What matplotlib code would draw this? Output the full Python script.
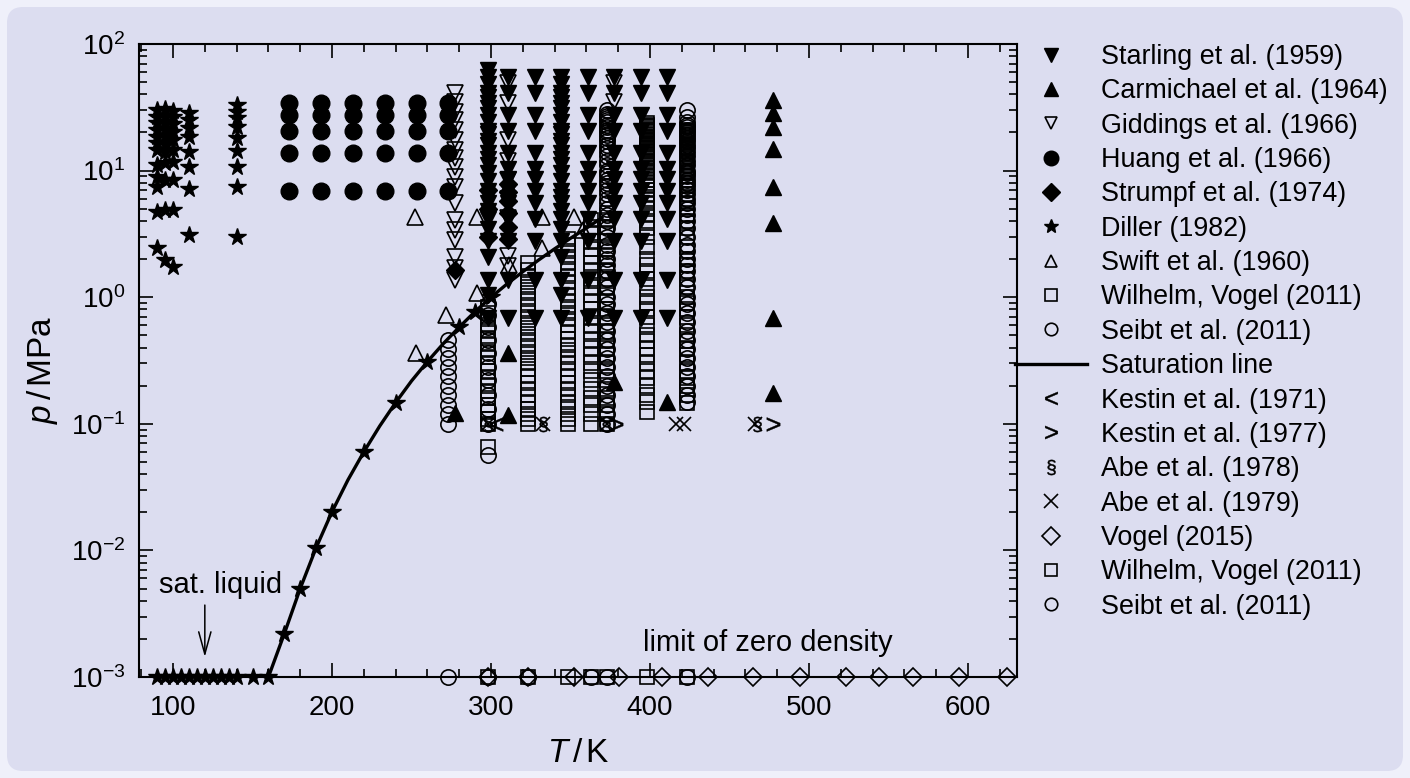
import numpy as np
import matplotlib.pyplot as plt
from matplotlib.lines import Line2D
from matplotlib.patches import FancyBboxPatch
from matplotlib.transforms import IdentityTransform
from matplotlib.ticker import MultipleLocator, LogLocator, NullFormatter

plt.rcParams['font.family'] = ['Liberation Sans', 'DejaVu Sans']
plt.rcParams['mathtext.fontset'] = 'custom'
plt.rcParams['mathtext.rm'] = 'Liberation Sans'
plt.rcParams['mathtext.it'] = 'Liberation Sans:italic'
plt.rcParams['mathtext.bf'] = 'Liberation Sans:bold'

# pressure used to show the limit of zero density / sat. liquid below 1 kPa
p_floor = 1e-3

# saturation line of propane, T / K and p / MPa
sat_T = [160, 170, 180, 190, 200, 210, 220, 230, 240, 250, 260, 270, 280,
         290, 300, 310, 320, 330, 340, 350, 360, 369.8]
sat_p = [0.001, 0.0022, 0.0050, 0.0105, 0.0202, 0.036, 0.060, 0.096, 0.147,
         0.218, 0.31, 0.43, 0.58, 0.77, 1.0, 1.27, 1.59, 1.97, 2.41, 2.92,
         3.51, 4.25]

# Starling et al. (1959)
starling_T = [310.93, 327.59, 360.93, 377.59, 394.26, 410.93]
starling_p = [0.689, 1.379, 2.758, 4.137, 5.516, 6.895, 8.618, 10.34, 13.79,
              20.68, 27.58, 41.37, 55.16]
starling_T_dense = [298.15, 344.26]
starling_p_dense = [0.689, 1.034, 1.379, 2.068, 2.758, 3.447, 4.137, 4.826,
                    5.516, 6.205, 6.895, 8.274, 9.653, 11.03, 12.41, 13.79,
                    15.86, 17.24, 19.31, 20.68, 24.13, 27.58, 31.03, 34.47,
                    37.92, 41.37, 48.26, 55.16]
starling_T_top = [298.15]
starling_p_top = [62.05]

# Carmichael et al. (1964)
carm_T = [477.59] * 8 + [277.6, 310.93, 310.93, 377.59, 410.93]
carm_p = [0.174, 0.68, 3.84, 7.47, 14.7, 22.2, 28.4, 36.1,
          0.121, 0.36, 0.117, 0.215, 0.15]

# Giddings et al. (1966)
gidd_T_a = [277.6]
gidd_p_a = [40.8, 35.0, 29.2, 25.1, 20.9, 17.5, 14.6, 12.5, 10.7, 8.96, 7.46,
            5.52, 4.07, 3.4, 2.83, 2.09, 1.37, 1.7]
gidd_T_b = [310.93]
gidd_p_b = [49.0, 34.0, 17.5, 12.0, 8.5, 6.0, 4.2, 2.1, 1.75]
gidd_T_c = [377.59]
gidd_p_c = [49.0, 35.0]

# Huang et al. (1966)
huang_T = [173.15, 193.15, 213.15, 233.15, 253.15, 273.15]
huang_p = [6.89, 13.79, 20.68, 27.58, 34.47]

# Strumpf et al. (1974)
strumpf_T = [310.93] * 6 + [298.15] * 3 + [277.6]
strumpf_p = [2.9, 3.6, 4.6, 5.8, 6.8, 7.9, 3.0, 5.0, 7.0, 1.64]

# Diller (1982): compressed liquid isotherms
diller_p_90 = [2.43, 4.73, 7.46, 8.96, 11.1, 14.6, 16.4, 18.5, 20.9, 23.7,
               26.7, 30.1]
diller_p_95 = [1.97, 4.9, 8.5, 11.5, 14.0, 16.2, 18.8, 21.2, 24.0, 27.0, 30.5]
diller_p_100 = [1.74, 4.9, 8.4, 11.7, 14.5, 17.3, 20.2, 23.3, 26.3, 29.8]
diller_p_110 = [3.1, 7.1, 10.7, 14.1, 18.5, 21.6, 25.1, 28.4]
diller_p_140 = [3.0, 7.4, 10.7, 14.4, 18.0, 22.2, 25.9, 29.2, 33.0]
# Diller (1982): saturated liquid
diller_T_low = [90, 95, 100, 105, 110, 115, 120, 125, 130, 135, 140, 150, 160]
diller_T_sat = [170, 180, 190, 200, 220, 240, 260, 280, 290, 300]
diller_p_sat = [0.0022, 0.0050, 0.0105, 0.0202, 0.060, 0.147, 0.31, 0.58,
                0.77, 1.0]

# Swift et al. (1960)
swift_T = [252.2, 291.4, 332.2, 352.0, 331.8, 311.3, 291.4, 271.6, 252.8,
           358.0]
swift_p = [4.32, 4.32, 4.32, 4.32, 2.43, 1.79, 1.07, 0.72, 0.36, 3.4]

# Wilhelm, Vogel (2011)
wv_p_298 = [0.065, 0.1, 0.11, 0.125, 0.14, 0.16, 0.18, 0.2, 0.23, 0.26, 0.3,
            0.34, 0.38, 0.43, 0.48, 0.54, 0.6, 0.67, 0.75, 0.84]
wv_p_323 = [0.1, 0.11, 0.12, 0.13, 0.15, 0.17, 0.19, 0.21, 0.24, 0.27, 0.3,
            0.33, 0.37, 0.41, 0.46, 0.51, 0.57, 0.63, 0.7, 0.78, 0.87, 0.97,
            1.08, 1.2, 1.33, 1.48, 1.65, 1.85]
wv_p_348 = [0.1, 0.11, 0.12, 0.135, 0.15, 0.17, 0.19, 0.21, 0.24, 0.27, 0.3,
            0.34, 0.38, 0.42, 0.47, 0.53, 0.6, 0.67, 0.75, 0.84, 0.94, 1.05,
            1.18, 1.32, 1.48, 1.66, 1.86, 2.08, 2.33, 2.6, 2.9]
wv_p_363 = [0.1, 0.12, 0.14, 0.16, 0.19, 0.22, 0.26, 0.3, 0.35, 0.4, 0.46,
            0.53, 0.6, 0.7, 0.8, 0.92, 1.05, 1.2, 1.4, 1.6, 1.85, 2.1, 2.4,
            2.8, 3.2, 3.6, 4.1]
wv_p_373 = [0.1, 0.12, 0.14, 0.16, 0.19, 0.22, 0.26, 0.3, 0.35, 0.4, 0.46,
            0.53, 0.6, 0.7, 0.8, 0.92, 1.05, 1.2, 1.4, 1.6, 1.85, 2.1, 2.4,
            2.8, 3.2, 3.6, 4.1, 4.6]
wv_p_398 = [0.125, 0.15, 0.17, 0.2, 0.23, 0.26, 0.3, 0.35, 0.4, 0.45, 0.5,
            0.6, 0.7, 0.8, 0.9, 1.0, 1.2, 1.4, 1.6, 1.8, 2.0, 2.5, 3.0, 3.5,
            4.0, 4.5, 5.0, 5.5, 6.0, 6.5, 7.0, 7.5, 8.0, 8.5, 9.0, 9.5, 10.0,
            10.5, 11.0, 11.5, 12.0, 12.5, 13.0, 13.5, 14.0, 14.5, 15.0, 15.5,
            16.0, 16.5, 17.0, 17.5, 18.0, 18.5, 19.0, 19.5, 20.0, 20.5, 21.0,
            21.5, 22.0, 22.5, 23.0, 23.7]
wv_p_423 = [0.145, 0.17, 0.2, 0.23, 0.26, 0.3, 0.35, 0.4, 0.45, 0.5, 0.6, 0.7,
            0.8, 0.9, 1.0, 1.2, 1.4, 1.6, 1.8, 2.0, 2.5, 3.0, 3.5, 4.0, 4.5,
            5.0, 5.5, 6.0, 6.5, 7.0, 7.5, 8.0, 8.5, 9.0, 9.5, 10.0, 10.5,
            11.0, 11.5, 12.0, 12.5, 13.0, 13.5, 14.0, 14.5, 15.0, 15.5, 16.0,
            16.5, 17.0, 17.5, 18.0, 18.5, 19.0, 19.5, 20.0, 20.5, 21.0]

# Seibt et al. (2011)
seibt_p_273 = [0.1, 0.12, 0.14, 0.17, 0.2, 0.24, 0.28, 0.33, 0.39, 0.46]
seibt_p_298 = [0.057, 0.1, 0.13, 0.17, 0.22, 0.28, 0.36, 0.46, 0.58, 0.72,
               0.88]
seibt_p_373 = [0.1, 0.12, 0.14, 0.17, 0.2, 0.24, 0.28, 0.33, 0.39, 0.46,
               0.54, 0.64, 0.75, 0.88, 1.0, 1.2, 1.4, 1.6, 1.8, 2.0, 2.3, 2.6,
               3.0, 3.5, 4.0, 4.5, 5.0, 5.5, 6.0, 6.5, 7.0, 7.5, 8.0, 8.5,
               9.0, 9.5, 10.0, 11.0, 12.0, 13.0, 14.0, 15.0, 16.0, 17.0, 18.0,
               19.0, 20.0, 21.0, 22.0, 23.0, 24.0, 25.0, 26.0, 27.0, 28.0,
               30.0]
seibt_p_423 = [0.15, 0.17, 0.2, 0.24, 0.28, 0.33, 0.39, 0.46, 0.54, 0.64,
               0.75, 0.88, 1.0, 1.2, 1.4, 1.6, 1.8, 2.0, 2.3, 2.6, 3.0, 3.5,
               4.0, 4.5, 5.0, 5.5, 6.0, 6.5, 7.0, 7.5, 8.0, 8.5, 9.0, 9.5,
               10.0, 11.0, 12.0, 13.0, 14.0, 15.0, 16.0, 17.0, 18.0, 19.0,
               20.0, 21.0, 22.0, 23.0, 24.0, 26.5, 30.0]

# measurements at ambient pressure
p_ambient = 0.1
kestin71_T = [303.15]
kestin77_T = [378.3, 477.6]
abe78_T = [298.15, 332.6, 372.2, 467.2]
abe79_T = [298.15, 332.6, 373.15, 416.6, 421.2, 466.2]

# limit of zero density
vogel15_T = [298.15, 323.4, 352.0, 380.7, 407.8, 436.7, 465.0, 494.2, 523.4,
             544.3, 565.2, 594.5, 624.3]
wv0_T = [298.15, 323.15, 348.15, 363.15, 373.15, 398.15, 423.15]
seibt0_T = [273.15, 298.15, 323.15, 363.15, 373.15, 423.15]

labels = ['Starling et al. (1959)', 'Carmichael et al. (1964)',
          'Giddings et al. (1966)', 'Huang et al. (1966)',
          'Strumpf et al. (1974)', 'Diller (1982)', 'Swift et al. (1960)',
          'Wilhelm, Vogel (2011)', 'Seibt et al. (2011)', 'Saturation line',
          'Kestin et al. (1971)', 'Kestin et al. (1977)', 'Abe et al. (1978)',
          'Abe et al. (1979)', 'Vogel (2015)', 'Wilhelm, Vogel (2011)',
          'Seibt et al. (2011)']


def grid(Ts, ps):
    TT, PP = np.meshgrid(Ts, ps)
    return TT.ravel(), PP.ravel()


fig = plt.figure(figsize=(14.1, 7.78), dpi=100)
fig.patch.set_facecolor('#eff0fa')
fig.patches.append(FancyBboxPatch((7, 7), 1396, 764,
                                  boxstyle='round,pad=0,rounding_size=16',
                                  transform=IdentityTransform(),
                                  facecolor='#dcddf0', edgecolor='none',
                                  zorder=-10))

ax = fig.add_axes([139 / 1410, 101 / 778, 878 / 1410, 633 / 778])
ax.set_facecolor('none')
ax.set_yscale('log')

filled = dict(color='k', ls='none')
hollow = dict(color='k', ls='none', mfc='none', mew=1.2)
glyph = dict(color='k', ls='none', mew=0.3)

ax.plot(*grid(starling_T, starling_p), 'v', ms=12, **filled)
ax.plot(*grid(starling_T_dense, starling_p_dense), 'v', ms=12, **filled)
ax.plot(starling_T_top, starling_p_top, 'v', ms=12, **filled)
ax.plot(carm_T, carm_p, '^', ms=12, **filled)
ax.plot(*grid(gidd_T_a, gidd_p_a), 'v', ms=11, **hollow)
ax.plot(*grid(gidd_T_b, gidd_p_b), 'v', ms=11, **hollow)
ax.plot(*grid(gidd_T_c, gidd_p_c), 'v', ms=11, **hollow)
ax.plot(*grid(huang_T, huang_p), 'o', ms=12, **filled)
ax.plot(strumpf_T, strumpf_p, 'D', ms=9, **filled)
for T, ps in [(90, diller_p_90), (95, diller_p_95), (100, diller_p_100),
              (110, diller_p_110), (140, diller_p_140)]:
    ax.plot([T] * len(ps), ps, '*', ms=13, **filled)
ax.plot(swift_T, swift_p, '^', ms=11, **hollow)
for T, ps in [(298.15, wv_p_298), (323.15, wv_p_323), (348.15, wv_p_348),
              (363.15, wv_p_363), (373.15, wv_p_373), (398.15, wv_p_398),
              (423.15, wv_p_423)]:
    ax.plot([T] * len(ps), ps, 's', ms=10.5, **hollow)
for T, ps in [(273.15, seibt_p_273), (298.15, seibt_p_298),
              (373.15, seibt_p_373), (423.15, seibt_p_423)]:
    ax.plot([T] * len(ps), ps, 'o', ms=11, **hollow)

ax.plot(sat_T, sat_p, '-', color='k', lw=2.4, zorder=3)
ax.plot(diller_T_sat, diller_p_sat, '*', ms=13, zorder=4, **filled)
ax.plot(diller_T_low, [p_floor] * len(diller_T_low), '*', ms=13, zorder=4,
        clip_on=False, **filled)

ax.plot(kestin71_T, [p_ambient] * len(kestin71_T), marker='$<$', ms=10,
        **glyph)
ax.plot(kestin77_T, [p_ambient] * len(kestin77_T), marker='$>$', ms=10,
        **glyph)
ax.plot(abe78_T, [p_ambient] * len(abe78_T), marker=r'$\S$', ms=11, **glyph)
ax.plot(abe79_T, [p_ambient] * len(abe79_T), 'x', ms=10, mew=1.2, **filled)

ax.plot(vogel15_T, [p_floor] * len(vogel15_T), 'D', ms=9, clip_on=False,
        zorder=4, **hollow)
ax.plot(wv0_T, [p_floor] * len(wv0_T), 's', ms=10.5, clip_on=False,
        zorder=4, **hollow)
ax.plot(seibt0_T, [p_floor] * len(seibt0_T), 'o', ms=11, clip_on=False,
        zorder=4, **hollow)

ax.set_xlim(78.6, 630.8)
ax.set_ylim(1e-3, 1e2)
ax.xaxis.set_major_locator(MultipleLocator(100))
ax.xaxis.set_minor_locator(MultipleLocator(20))
ax.yaxis.set_major_locator(LogLocator(base=10, numticks=10))
ax.yaxis.set_minor_locator(LogLocator(base=10, subs=np.arange(2, 10),
                                      numticks=20))
ax.yaxis.set_minor_formatter(NullFormatter())
ax.tick_params(which='both', direction='in', top=True, right=True,
               labelsize=20, width=1.2, pad=10, colors='k')
ax.tick_params(axis='x', which='both', pad=13)
ax.tick_params(which='major', length=10)
ax.tick_params(which='minor', length=6)
for s in ax.spines.values():
    s.set_linewidth(1.5)

fig.text(42 / 1410, 1 - 370 / 778, r'$p\,/\,\mathrm{MPa}$', rotation=90,
         ha='center', va='center', fontsize=24)
fig.text(578 / 1410, 1 - 753 / 778, r'$T\,/\,\mathrm{K}$', ha='center',
         va='center', fontsize=24)

ax.text(130, 0.0053, 'sat. liquid', ha='center', va='center', fontsize=21)
ax.annotate('', xy=(120, 0.00144), xytext=(120, 0.0037),
            arrowprops=dict(arrowstyle='->,head_length=0.8,head_width=0.22',
                            mutation_scale=20, lw=1.1, color='k',
                            shrinkA=0, shrinkB=0))
ax.text(474, 0.00186, 'limit of zero density', ha='center', va='center',
        fontsize=21)

handles = [
    Line2D([], [], marker='v', ms=9.5, **filled),
    Line2D([], [], marker='^', ms=9.5, **filled),
    Line2D([], [], marker='v', ms=9, **hollow),
    Line2D([], [], marker='o', ms=10.5, **filled),
    Line2D([], [], marker='D', ms=9, **filled),
    Line2D([], [], marker='*', ms=10.5, **filled),
    Line2D([], [], marker='^', ms=8.5, **hollow),
    Line2D([], [], marker='s', ms=8.5, **hollow),
    Line2D([], [], marker='o', ms=9, **hollow),
    Line2D([], [], color='k', lw=2.4),
    Line2D([], [], marker='$<$', ms=9.5, **glyph),
    Line2D([], [], marker='$>$', ms=9.5, **glyph),
    Line2D([], [], marker=r'$\S$', ms=11, **glyph),
    Line2D([], [], marker='x', ms=10, mew=1.2, **filled),
    Line2D([], [], marker='D', ms=9, **hollow),
    Line2D([], [], marker='s', ms=8.5, **hollow),
    Line2D([], [], marker='o', ms=9, **hollow),
]
ax.legend(handles, labels, loc='upper left',
          bbox_to_anchor=(1015 / 1410, 1 - 44 / 778),
          bbox_transform=fig.transFigure, frameon=False, fontsize=19.4,
          handlelength=2.67, handletextpad=0.52, labelspacing=0.31,
          borderpad=0, borderaxespad=0)

fig.savefig('out.png', dpi=100, facecolor=fig.get_facecolor())
